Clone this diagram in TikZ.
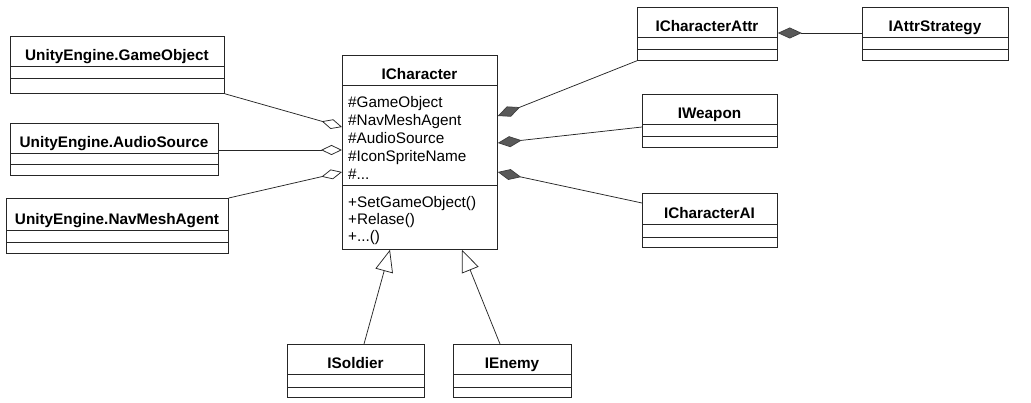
\documentclass[tikz,border=0pt]{standalone}
\usepackage{fontspec}
\setmainfont{Liberation Sans}
\usetikzlibrary{arrows.meta}
\tikzset{
  umlline/.style={draw=black!85, line width=0.75pt},
  classframe/.style={umlline, inner sep=0pt, anchor=north west},
  classtitle/.style={font=\fontsize{15.3}{18}\selectfont\bfseries, anchor=base, inner sep=0pt},
  member/.style={font=\fontsize{15.3}{18}\selectfont, anchor=base west, inner sep=0pt},
  aggr/.style={umlline, {Diamond[open, length=21pt, width=10pt, line width=0.75pt]}-},
  comp/.style={umlline, {Diamond[fill=black!65, color=black!75, length=24pt, width=11pt]}-},
  inherit/.style={umlline, -{Triangle[open, length=22pt, width=18pt, line width=0.75pt]}}
}
% name, x1, y1, x2, y2, divider1, divider2, title
\newcommand{\classbox}[8]{%
  \node[classframe, minimum width={(#4-#2)*1pt}, minimum height={(#5-#3)*1pt}] (#1) at (#2,#3) {};
  \node[classtitle] (#1-t) at ({(#2+#4)/2},{#6-5.5}) {#8};
  \draw[umlline] (#2,#6) -- (#4,#6);
  \draw[umlline] (#2,#7) -- (#4,#7);
}
\begin{document}
\begin{tikzpicture}[x=1pt,y=-1pt]
\useasboundingbox (0,0) rectangle (1031,403);

\classbox{go}{10}{36}{224}{93}{66}{78}{UnityEngine.GameObject}
\classbox{as}{10}{123}{218}{175}{153}{164}{UnityEngine.AudioSource}
\classbox{nav}{6}{198}{228}{253}{230}{242}{UnityEngine.NavMeshAgent}

\classbox{ic}{342}{55}{497}{249}{85}{185}{ICharacter}
\node[member] (m1) at (348,107.5) {\#GameObject};
\node[member] (m2) at (348,125.5) {\#NavMeshAgent};
\node[member] (m3) at (348,143.5) {\#AudioSource};
\node[member] (m4) at (348,161.5) {\#IconSpriteName};
\node[member] (m5) at (348,179.5) {\#...};
\node[member] (f1) at (348,207.5) {+SetGameObject()};
\node[member] (f2) at (348,224.5) {+Relase()};
\node[member] (f3) at (348,242) {+...()};

\classbox{ca}{637}{7}{777}{60}{37}{49}{ICharacterAttr}
\classbox{st}{862}{7}{1008}{60}{37}{49}{IAttrStrategy}
\classbox{wp}{642}{94}{777}{147}{124}{136}{IWeapon}
\classbox{ai}{642}{193}{777}{247}{224}{237}{ICharacterAI}

\classbox{so}{287}{344}{424}{397}{374}{387}{ISoldier}
\classbox{en}{453}{344}{571}{397}{374}{387}{IEnemy}

% aggregations (hollow diamonds)
\draw[aggr] ([yshift=-72pt]ic.north west) -- (go.south east);
\draw[aggr] ([yshift=-95pt]ic.north west) -- ([yshift=-27pt]as.north east);
\draw[aggr] ([yshift=-117pt]ic.north west) -- (nav.north east);

% compositions (filled diamonds)
\draw[comp] ([yshift=-61pt]ic.north east) -- (ca.south west);
\draw[comp] ([yshift=-88pt]ic.north east) -- ([yshift=-33pt]wp.north west);
\draw[comp] ([yshift=-117pt]ic.north east) -- ([yshift=-10pt]ai.north west);
\draw[comp] ([yshift=-26pt]ca.north east) -- ([yshift=-26pt]st.north west);

% generalizations
\draw[inherit] ([xshift=77pt]so.north west) -- ([xshift=48pt]ic.south west);
\draw[inherit] ([xshift=47pt]en.north west) -- ([xshift=120pt]ic.south west);
\end{tikzpicture}
\end{document}
